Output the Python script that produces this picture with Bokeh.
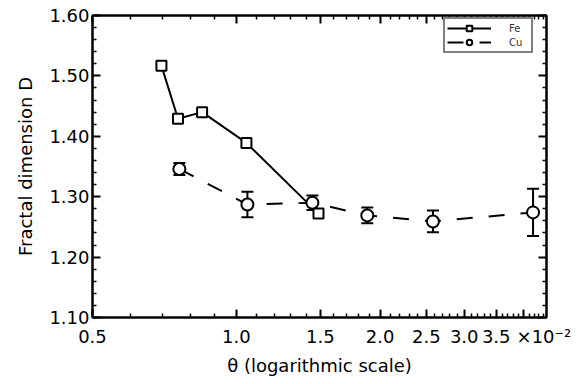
from bokeh.plotting import figure
from bokeh.models import (ColumnDataSource, Whisker, TeeHead, FixedTicker, LogAxis,
                          LinearAxis, Legend, LegendItem, Range1d)
from bokeh.embed import file_html
from bokeh.resources import INLINE

# ---- data ----
fe_theta = [0.697, 0.755, 0.848, 1.050, 1.486]
fe_D     = [1.517, 1.429, 1.440, 1.389, 1.272]
fe_err   = [0.003, 0.007, 0.003, 0.003, 0.003]

cu_theta = [0.760, 1.055, 1.443, 1.880, 2.580, 4.180]
cu_D     = [1.346, 1.287, 1.290, 1.269, 1.259, 1.274]
cu_err   = [0.010, 0.021, 0.012, 0.013, 0.018, 0.039]

NB = "\u00a0"
x_major = [0.5, 1.0, 1.5, 2.0, 2.5, 3.0, 3.5, 4.0]
x_major_labels = ["0.5", "1.0", "1.5", "2.0", "2.5", "3.0", "3.5", NB * 7 + "×10⁻²"]
x_minor = [0.6, 0.7, 0.8, 0.9, 1.1, 1.2, 1.3, 1.4, 1.6, 1.7, 1.8, 1.9,
           2.1, 2.2, 2.3, 2.4, 2.6, 2.7, 2.8, 2.9, 3.1, 3.2, 3.3, 3.4,
           3.6, 3.7, 3.8, 3.9, 4.1, 4.2, 4.3, 4.4]
y_major = [1.1, 1.2, 1.3, 1.4, 1.5, 1.6]
y_major_labels = ["1.10", "1.20", "1.30", "1.40", "1.50", "1.60"]
y_minor = [1.12, 1.14, 1.16, 1.18, 1.22, 1.24, 1.26, 1.28, 1.32, 1.34, 1.36, 1.38,
           1.42, 1.44, 1.46, 1.48, 1.52, 1.54, 1.56, 1.58]

FONT = "DejaVu Sans"
X0, X1, Y0, Y1 = 0.5, 4.46, 1.10, 1.60

p = figure(width=586, height=384, x_axis_type="log", output_backend="svg",
           toolbar_location=None, x_range=Range1d(X0, X1), y_range=Range1d(Y0, Y1),
           min_border_left=92, min_border_right=40, min_border_top=15, min_border_bottom=67)
p.xgrid.visible = False
p.ygrid.visible = False
p.outline_line_color = "black"
p.outline_line_width = 2
p.background_fill_color = "white"
p.border_fill_color = "white"

def style(ax, labels):
    ax.axis_line_color = "black"
    ax.axis_line_width = 2
    ax.major_tick_line_width = 2
    ax.minor_tick_line_width = 1.5
    ax.major_tick_in = 8
    ax.major_tick_out = 0
    ax.minor_tick_in = 4
    ax.minor_tick_out = 0
    if not labels:
        ax.major_label_text_font_size = "0px"
        ax.major_label_standoff = 0

xa = p.xaxis[0]
xa.ticker = FixedTicker(ticks=x_major, minor_ticks=x_minor)
style(xa, True)
xa.major_label_overrides = dict(zip(x_major, x_major_labels))
xa.major_label_text_font = FONT
xa.major_label_text_font_size = "18px"
xa.major_label_text_color = "black"
xa.major_label_standoff = 8
xa.axis_label = "θ (logarithmic scale)"
xa.axis_label_text_font = FONT
xa.axis_label_text_font_size = "18px"
xa.axis_label_text_font_style = "normal"
xa.axis_label_text_color = "black"
xa.axis_label_standoff = 5

ya = p.yaxis[0]
ya.ticker = FixedTicker(ticks=y_major, minor_ticks=y_minor)
style(ya, True)
ya.major_label_overrides = dict(zip(y_major, y_major_labels))
ya.major_label_text_font = FONT
ya.major_label_text_font_size = "18px"
ya.major_label_text_color = "black"
ya.major_label_standoff = 3
ya.axis_label = "Fractal dimension D"
ya.axis_label_text_font = FONT
ya.axis_label_text_font_size = "18px"
ya.axis_label_text_font_style = "normal"
ya.axis_label_text_color = "black"
ya.axis_label_standoff = 10

top = LogAxis(ticker=FixedTicker(ticks=x_major, minor_ticks=x_minor))
style(top, False)
p.add_layout(top, "above")
right = LinearAxis(ticker=FixedTicker(ticks=y_major, minor_ticks=y_minor))
style(right, False)
p.add_layout(right, "right")

# error bars
cu_src = ColumnDataSource(data=dict(x=cu_theta,
                                    upper=[d + e for d, e in zip(cu_D, cu_err)],
                                    lower=[d - e for d, e in zip(cu_D, cu_err)]))
fe_src = ColumnDataSource(data=dict(x=fe_theta,
                                    upper=[d + e for d, e in zip(fe_D, fe_err)],
                                    lower=[d - e for d, e in zip(fe_D, fe_err)]))
for src, w in ((cu_src, 12), (fe_src, 8)):
    wk = Whisker(source=src, base="x", upper="upper", lower="lower", dimension="height",
                 line_color="black", line_width=2,
                 upper_head=TeeHead(size=w, line_width=2, line_color="black"),
                 lower_head=TeeHead(size=w, line_width=2, line_color="black"))
    wk.level = "underlay"
    p.add_layout(wk)

fe_line = p.line(fe_theta, fe_D, line_color="black", line_width=2)
cu_line = p.line(cu_theta, cu_D, line_color="black", line_width=2, line_dash="16 16")
fe_pts = p.scatter(fe_theta, fe_D, marker="square", size=10, fill_color="white",
                   line_color="black", line_width=2)
cu_pts = p.scatter(cu_theta, cu_D, marker="circle", size=12, fill_color="white",
                   line_color="black", line_width=2)

legend = Legend(items=[LegendItem(label="Fe", renderers=[fe_line, fe_pts]),
                       LegendItem(label="Cu", renderers=[cu_line, cu_pts])],
                location=(351, 264), orientation="vertical",
                glyph_width=44, glyph_height=14, label_height=14, spacing=-2, padding=2,
                label_standoff=18, label_text_font=FONT, label_text_font_size="10px",
                label_text_color="#333333",
                border_line_color="black", border_line_width=2,
                background_fill_color="white", background_fill_alpha=1)
p.add_layout(legend)

open("out.html", "w").write(file_html(p, INLINE))
